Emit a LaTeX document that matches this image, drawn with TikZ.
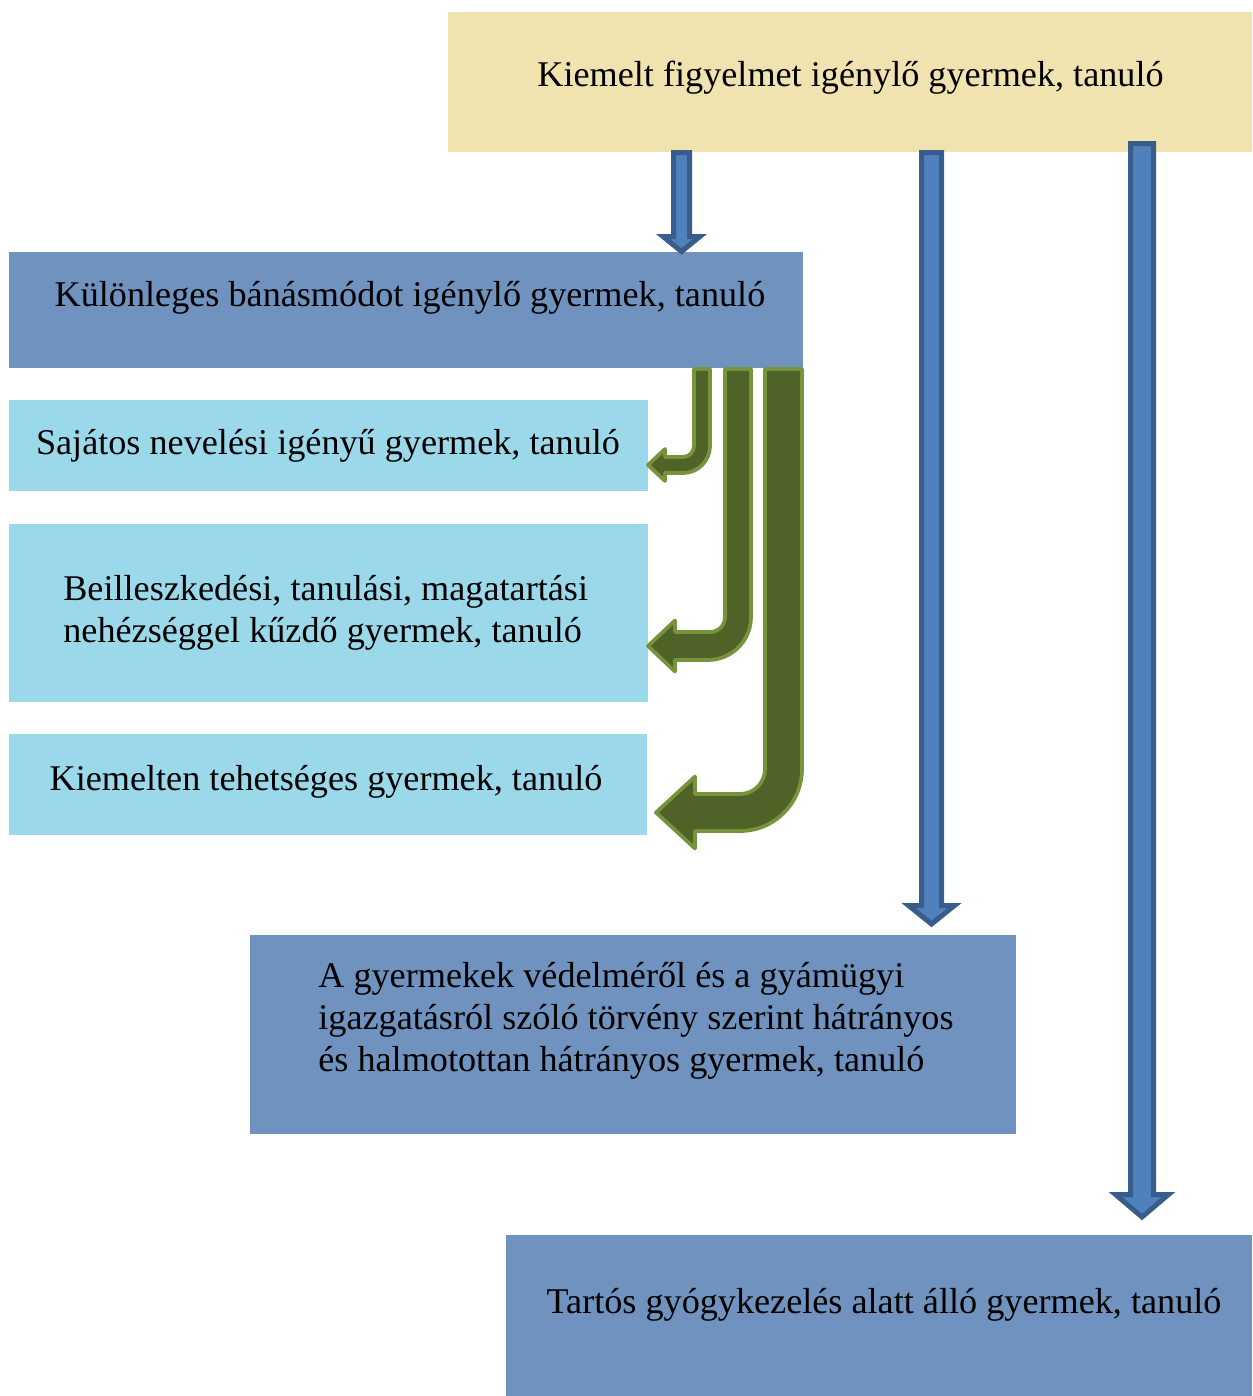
\documentclass[tikz,border=0pt]{standalone}
\usepackage{fontspec}
\setmainfont{Liberation Serif}
\definecolor{yellowbox}{RGB}{240,227,175}
\definecolor{bluebox}{RGB}{112,146,190}
\definecolor{lightbox}{RGB}{155,217,234}
\definecolor{arrfill}{RGB}{79,129,189}
\definecolor{arrline}{RGB}{56,93,138}
\definecolor{grfill}{RGB}{79,98,40}
\definecolor{grline}{RGB}{119,147,60}
\tikzset{
  boxsty/.style={draw=none, inner sep=0pt, outer sep=0pt},
  txt/.style={inner sep=0pt, font=\fontsize{20.6}{23.9}\selectfont, text=black},
  barrowsty/.style={fill=arrfill, draw=arrline, line width=0.1cm, line join=miter},
  garrowsty/.style={fill=grfill, draw=grline, line width=0.075cm, line join=round},
}
% #1 x centre, #2 top y, #3 tip y, #4 shaft half width, #5 head half width, #6 head start y
\newcommand\blockdown[6]{%
  \draw[barrowsty] (#1-#4,#2) -- (#1-#4,#6) -- (#1-#5,#6) -- (#1,#3) -- (#1+#5,#6) -- (#1+#4,#6) -- (#1+#4,#2) -- cycle;}
\begin{document}
\begin{tikzpicture}[x=0.02cm, y=-0.02cm]
\useasboundingbox (0,0) rectangle (1252,1396);
% boxes
\node[boxsty, fill=yellowbox, minimum width=16.08cm, minimum height=2.8cm] (top) at (850,82) {};
\node[boxsty, fill=bluebox, minimum width=15.88cm, minimum height=2.32cm] (kul) at (406,310) {};
\node[boxsty, fill=lightbox, minimum width=12.78cm, minimum height=1.82cm] (saj) at (328.5,445.5) {};
\node[boxsty, fill=lightbox, minimum width=12.78cm, minimum height=3.56cm] (beil) at (328.5,613) {};
\node[boxsty, fill=lightbox, minimum width=12.76cm, minimum height=2.02cm] (kiem) at (328,784.5) {};
\node[boxsty, fill=bluebox, minimum width=15.32cm, minimum height=3.98cm] (gyv) at (633,1034.5) {};
\node[boxsty, fill=bluebox, minimum width=14.92cm, minimum height=3.22cm] (tart) at (879,1315.5) {};
% texts
\node[txt, anchor=base] (toptext) at (850.5,86) {Kiemelt figyelmet igénylő gyermek, tanuló};
\node[txt, anchor=base] (kultext) at (410,306) {Különleges bánásmódot igénylő gyermek, tanuló};
\node[txt, anchor=base] (sajtext) at (328,454) {Sajátos nevelési igényű gyermek, tanuló};
\node[txt, anchor=base west, align=left] (beiltext) at (63,642) {Beilleszkedési, tanulási, magatartási\\nehézséggel kűzdő gyermek, tanuló};
\node[txt, anchor=base] (kiemtext) at (326,790) {Kiemelten tehetséges gyermek, tanuló};
\node[txt, anchor=base west, align=left] (gyvtext) at (318,1071) {A gyermekek védelméről és a gyámügyi\\igazgatásról szóló törvény szerint hátrányos\\és halmotottan hátrányos gyermek, tanuló};
\node[txt, anchor=base] (tarttext) at (884,1313) {Tartós gyógykezelés alatt álló gyermek, tanuló};
% blue block arrows
\blockdown{681.5}{152.5}{251.5}{8}{18.5}{236.5}
\blockdown{931.5}{152.5}{924}{10}{23}{905.5}
\blockdown{1142}{143.5}{1217}{11.5}{26.5}{1194.5}
% green bent arrows
\draw[garrowsty] (694,369) -- (694,446) arc[start angle=0,end angle=90,radius=11]
  -- (665,457) -- (665,449) -- (648,465) -- (665,481) -- (665,473) -- (683,473)
  arc[start angle=90,end angle=0,radius=27] -- (710,369) -- cycle;
\draw[garrowsty] (725,369) -- (725,617) arc[start angle=0,end angle=90,radius=15]
  -- (675,632) -- (675,620.5) -- (648,646) -- (675,671.5) -- (675,660) -- (708,660)
  arc[start angle=90,end angle=0,radius=43] -- (751,369) -- cycle;
\draw[garrowsty] (765,369) -- (765,769) arc[start angle=0,end angle=90,radius=25]
  -- (695,794) -- (695,776.5) -- (656,812.5) -- (695,848.5) -- (695,831) -- (740,831)
  arc[start angle=90,end angle=0,radius=62] -- (802,369) -- cycle;
\end{tikzpicture}
\end{document}
